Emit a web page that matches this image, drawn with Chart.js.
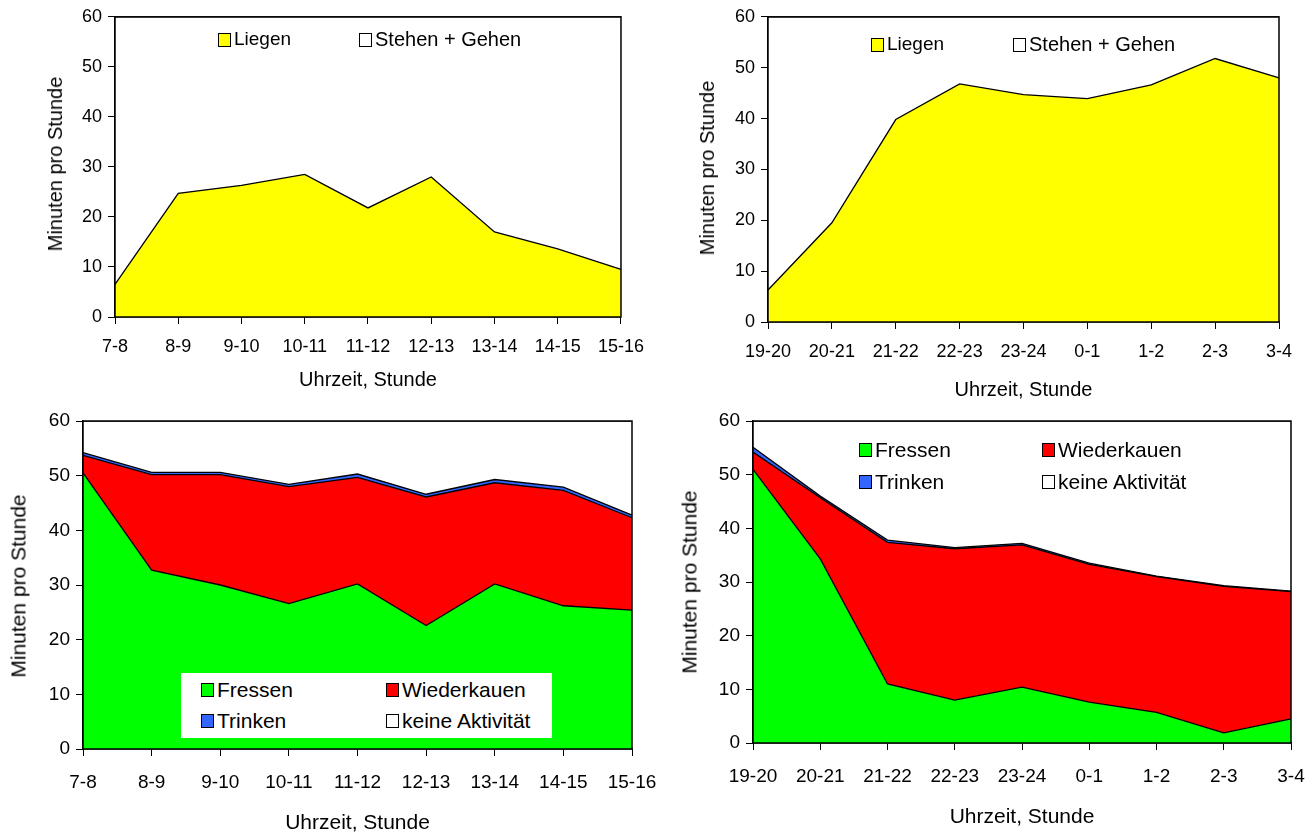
<!DOCTYPE html>
<html>
<head>
<meta charset="utf-8">
<script src="https://cdn.jsdelivr.net/npm/chart.js@4.4.1/dist/chart.umd.min.js"></script>
<style>
  body { margin: 0; background: #fff; width: 1313px; height: 838px; position: relative; overflow: hidden; font-family: 'Liberation Sans', Arial, sans-serif; }
  .box { position: absolute; }
  .legend { position: absolute; color: #000; white-space: nowrap; }
  .legend .sw { position: absolute; width: 11px; height: 12px; border: 1.5px solid #000; }
  .legend .tx { position: absolute; }
  .ytitle { position: absolute; white-space: nowrap; color: #000; line-height: 1; }
</style>
</head>
<body>
<div class="box" style="left:0;top:0"><canvas id="liegenDayChart" width="656" height="400"></canvas></div>
<div class="box" style="left:656px;top:0"><canvas id="liegenNightChart" width="657" height="410"></canvas></div>
<div class="box" style="left:0;top:400px"><canvas id="activityDayChart" width="680" height="438"></canvas></div>
<div class="box" style="left:656px;top:400px"><canvas id="activityNightChart" width="680" height="438"></canvas></div>
<div id="legends"></div>
<script>
const hoursDay = ['7-8', '8-9', '9-10', '10-11', '11-12', '12-13', '13-14', '14-15', '15-16'];
const hoursNight = ['19-20', '20-21', '21-22', '22-23', '23-24', '0-1', '1-2', '2-3', '3-4'];
const yTicks = [0, 10, 20, 30, 40, 50, 60];

// Liegen / Stehen + Gehen (Minuten pro Stunde)
const liegenDay = [6.5, 24.7, 26.3, 28.5, 21.8, 28.0, 17.0, 13.6, 9.5];
const stehenDay = [53.5, 35.3, 33.7, 31.5, 38.2, 32.0, 43.0, 46.4, 50.5];
const liegenNight = [6.3, 19.5, 39.8, 46.8, 44.7, 43.9, 46.6, 51.8, 48.0];
const stehenNight = [53.7, 40.5, 20.2, 13.2, 15.3, 16.1, 13.4, 8.2, 12.0];

// Fressen / Wiederkauen / Trinken / keine Aktivität
const fressenDay = [50.5, 32.7, 30.0, 26.6, 30.2, 22.6, 30.2, 26.2, 25.4];
const wiederkauenDay = [3.2, 17.5, 20.2, 21.4, 19.5, 23.5, 18.5, 21.1, 16.9];
const trinkenDay = [0.5, 0.4, 0.4, 0.4, 0.6, 0.5, 0.6, 0.6, 0.5];
const keineDay = [5.8, 9.4, 9.4, 11.6, 9.7, 13.4, 10.7, 12.1, 17.2];
const fressenNight = [51.0, 34.3, 11.0, 8.0, 10.4, 7.6, 5.7, 1.9, 4.5];
const wiederkauenNight = [3.2, 11.4, 26.4, 28.2, 26.5, 25.7, 25.3, 27.3, 23.7];
const trinkenNight = [0.9, 0.3, 0.4, 0.2, 0.3, 0.2, 0.1, 0.1, 0.1];
const keineNight = [4.9, 14.0, 22.2, 23.6, 22.8, 26.5, 28.9, 30.7, 31.7];

const colors = { liegen: '#ffff00', stehen: '#ffffff', fressen: '#00ff00', wiederkauen: '#ff0000', trinken: '#3366ff', keine: '#ffffff' };
const fontFamily = "'Liberation Sans', Arial, sans-serif";

// black frame round the plot area, like the Excel original
const framePlugin = {
    id: 'frame',
    afterDatasetsDraw(chart) {
        const { ctx, chartArea: a } = chart;
        ctx.save();
        ctx.strokeStyle = '#000';
        ctx.lineWidth = 1.5;
        ctx.strokeRect(a.left, a.top, a.right - a.left, a.bottom - a.top);
        ctx.restore();
    }
};

function area(label, data, color, first) {
    return {
        label: label,
        data: data,
        backgroundColor: color,
        borderColor: '#000',
        borderWidth: 1.3,
        pointRadius: 0,
        tension: 0,
        fill: first ? 'origin' : '-1'
    };
}

function makeChart(id, labels, datasets, lay) {
    const font = { family: fontFamily, size: lay.tickSize };
    new Chart(document.getElementById(id), {
        type: 'line',
        data: { labels: labels, datasets: datasets },
        options: {
            responsive: false,
            animation: false,
            devicePixelRatio: 1,
            layout: { padding: { top: lay.top, right: lay.right, left: 0, bottom: 0 } },
            plugins: { legend: { display: false }, tooltip: { enabled: false } },
            scales: {
                x: {
                    offset: false,
                    grid: { drawOnChartArea: false, drawTicks: true, tickLength: 7, color: '#000', offset: false },
                    border: { display: true, color: '#000', width: 1.5 },
                    ticks: { color: '#000', font: font, maxRotation: 0, autoSkip: false, padding: lay.xTickPad },
                    title: { display: true, text: 'Uhrzeit, Stunde', color: '#000', font: { family: fontFamily, size: lay.xTitleSize }, padding: { top: 0, bottom: lay.xTitleBottom } },
                    afterFit(scale) { scale.height = lay.xHeight; }
                },
                y: {
                    stacked: true,
                    min: 0,
                    max: 60,
                    afterBuildTicks(scale) { scale.ticks = yTicks.map(v => ({ value: v })); },
                    grid: { drawOnChartArea: false, drawTicks: true, tickLength: 7, color: '#000' },
                    border: { display: true, color: '#000', width: 1.5 },
                    ticks: { color: '#000', font: font, padding: 6 },
                    title: { display: false },
                    afterFit(scale) { scale.width = lay.yWidth; }
                }
            }
        },
        plugins: [framePlugin]
    });
}

makeChart('liegenDayChart', hoursDay, [
    area('Liegen', liegenDay, colors.liegen, true),
    area('Stehen + Gehen', stehenDay, colors.stehen, false)
], { top: 13, right: 30, yWidth: 115, xHeight: 83, tickSize: 18, xTitleSize: 20, xTickPad: 12, xTitleBottom: 8 });

makeChart('liegenNightChart', hoursNight, [
    area('Liegen', liegenNight, colors.liegen, true),
    area('Stehen + Gehen', stehenNight, colors.stehen, false)
], { top: 15, right: 34, yWidth: 112, xHeight: 88, tickSize: 18, xTitleSize: 20, xTickPad: 12, xTitleBottom: 8 });

makeChart('activityDayChart', hoursDay, [
    area('Fressen', fressenDay, colors.fressen, true),
    area('Wiederkauen', wiederkauenDay, colors.wiederkauen, false),
    area('Trinken', trinkenDay, colors.trinken, false),
    area('keine Aktivität', keineDay, colors.keine, false)
], { top: 21, right: 48, yWidth: 83, xHeight: 89, tickSize: 19, xTitleSize: 21, xTickPad: 15, xTitleBottom: 2 });

makeChart('activityNightChart', hoursNight, [
    area('Fressen', fressenNight, colors.fressen, true),
    area('Wiederkauen', wiederkauenNight, colors.wiederkauen, false),
    area('Trinken', trinkenNight, colors.trinken, false),
    area('keine Aktivität', keineNight, colors.keine, false)
], { top: 21, right: 45, yWidth: 97, xHeight: 95, tickSize: 19, xTitleSize: 21, xTickPad: 15, xTitleBottom: 8 });

// y axis titles, drawn as rotated html text
const yTitles = [
    { cx: 55, cy: 164, size: 20 },
    { cx: 707, cy: 168, size: 20 },
    { cx: 18, cy: 586, size: 21 },
    { cx: 689, cy: 582, size: 21 }
];

// legends (html, over the plot areas)
const legendItems = [
    { x: 218, y: 33, label: 'Liegen', color: colors.liegen, size: 19 },
    { x: 359, y: 33, label: 'Stehen + Gehen', color: colors.stehen, size: 20 },
    { x: 871, y: 38, label: 'Liegen', color: colors.liegen, size: 19 },
    { x: 1013, y: 38, label: 'Stehen + Gehen', color: colors.stehen, size: 20 },
    { x: 201, y: 683, label: 'Fressen', color: colors.fressen, size: 21 },
    { x: 386, y: 683, label: 'Wiederkauen', color: colors.wiederkauen, size: 21 },
    { x: 201, y: 714, label: 'Trinken', color: colors.trinken, size: 21 },
    { x: 386, y: 714, label: 'keine Aktivität', color: colors.keine, size: 21 },
    { x: 859, y: 443, label: 'Fressen', color: colors.fressen, size: 21 },
    { x: 1042, y: 443, label: 'Wiederkauen', color: colors.wiederkauen, size: 21 },
    { x: 859, y: 475, label: 'Trinken', color: colors.trinken, size: 21 },
    { x: 1042, y: 475, label: 'keine Aktivität', color: colors.keine, size: 21 }
];

const legendsDiv = document.getElementById('legends');
let html = '<div style="position:absolute;left:181px;top:673px;width:371px;height:65px;background:#fff"></div>';
legendItems.forEach(item => {
    html += `<div class="legend" style="left:${item.x}px;top:${item.y}px;font-size:${item.size}px">` +
        `<span class="sw" style="left:0;top:0;background:${item.color}"></span>` +
        `<span class="tx" style="left:16px;top:${-item.size * 0.25}px">${item.label}</span></div>`;
});
yTitles.forEach(t => {
    html += `<div class="ytitle" style="left:${t.cx}px;top:${t.cy}px;font-size:${t.size}px;` +
        `transform:translate(-50%,-50%) rotate(-90deg)">Minuten pro Stunde</div>`;
});
legendsDiv.innerHTML = html;
</script>
</body>
</html>
